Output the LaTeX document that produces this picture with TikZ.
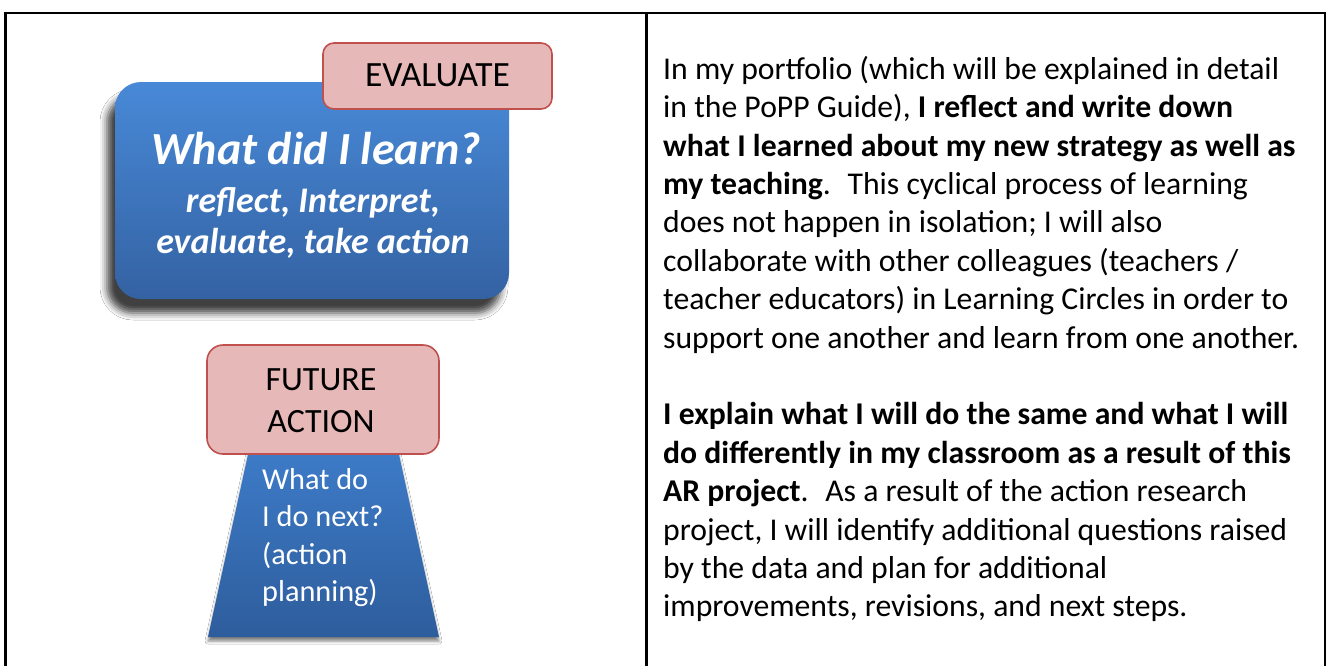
\documentclass[tikz,border=0pt]{standalone}
\usepackage{fontspec}
\setmainfont{Carlito}
\usetikzlibrary{shadows.blur}
\definecolor{bluetop}{HTML}{4889D7}
\definecolor{bluebot}{HTML}{3462A3}
\definecolor{traptop}{HTML}{3D7BC8}
\definecolor{trapbot}{HTML}{2E5D9C}
\definecolor{pinkfill}{HTML}{E6B9B8}
\definecolor{pinkdraw}{HTML}{C0504D}
\begin{document}
\begin{tikzpicture}[x=1pt,y=-1pt,
  tableline/.style={line width=2.2pt},
  bluebox/.style={rounded corners=26pt, top color=bluetop, bottom color=bluebot,
    minimum width=394pt, minimum height=217pt, inner sep=0pt,
    blur shadow={shadow xshift=-8pt, shadow yshift=-14pt, shadow blur radius=7pt, shadow opacity=75}},
  pinkbox/.style={fill=pinkfill, draw=pinkdraw, line width=1.6pt, inner sep=0pt},
  whitetext/.style={text=white, inner sep=0pt},
  blacktext/.style={text=black, inner sep=0pt},
]
\useasboundingbox (0,0) rectangle (1328,665);
\fill[white] (0,0) rectangle (1328,665);

% table frame
\coordinate (tl) at (5.5,13);
\coordinate (tr) at (1325,13);
\coordinate (bl) at (5.5,667);
\coordinate (br) at (1325,667);
\coordinate (tm) at (646.5,13);
\coordinate (bm) at (646.5,667);
\draw[tableline] (bl) -- (tl) -- (tr) -- (br);
\draw[tableline] (tm) -- (bm);

% blue box
\node[bluebox] (learn) at (312,190.5) {};
\node[whitetext, anchor=base, font=\fontsize{46}{46}\selectfont\bfseries\itshape] (title) at (316,164) {What did I learn?};
\node[whitetext, anchor=base, font=\fontsize{36}{41}\selectfont\bfseries\itshape] (sub) at (313,212)
  {\parbox[t]{400pt}{\centering reflect, Interpret,\\ evaluate, take action}};

% evaluate label
\node[pinkbox, rounded corners=11pt, minimum width=229pt, minimum height=66pt] (eval) at (437.5,76) {};
\node[blacktext, anchor=base, font=\fontsize{35.5}{35.5}\selectfont] (evaltext) at (437.5,86.5) {EVALUATE};

% trapezoid
\coordinate (ta) at (249,450);
\coordinate (tb) at (398,450);
\coordinate (tc) at (439,637);
\coordinate (td) at (208,637);
\path[top color=traptop, bottom color=trapbot,
  blur shadow={shadow xshift=0pt, shadow yshift=-4pt, shadow blur radius=3pt, shadow opacity=50}]
  (ta) -- (tb) -- (tc) -- (td) -- cycle;
\node[whitetext, anchor=base west, font=\fontsize{30.3}{37.5}\selectfont] (next) at (262,489)
  {\parbox[t]{200pt}{\raggedright What do\\ I do next?\\ (action\\ planning)}};

% future action label
\node[pinkbox, rounded corners=16pt, minimum width=232pt, minimum height=109pt] (future) at (323,399.5) {};
\node[blacktext, anchor=base, font=\fontsize{34}{42}\selectfont] (futuretext) at (321,390)
  {\parbox[t]{240pt}{\centering FUTURE\\ ACTION}};

% right-hand text
\node[blacktext, anchor=base west, font=\fontsize{31.7}{38.4}\selectfont] (para) at (663,79.3)
  {\parbox[t]{720pt}{\raggedright
  In my portfolio (which will be explained in detail\\
  in the PoPP Guide), \textbf{I reflect and write down}\\
  \textbf{what I learned about my new strategy as well as}\\
  \textbf{my teaching}.~ This cyclical process of learning\\
  does not happen in isolation; I will also\\
  collaborate with other colleagues (teachers /\\
  teacher educators) in Learning Circles in order to\\
  support one another and learn from one another.\\[38.4pt]
  \textbf{I explain what I will do the same and what I will}\\
  \textbf{do differently in my classroom as a result of this}\\
  \textbf{AR project}.~ As a result of the action research\\
  project, I will identify additional questions raised\\
  by the data and plan for additional\\
  improvements, revisions, and next steps.}};
\end{tikzpicture}
\end{document}
